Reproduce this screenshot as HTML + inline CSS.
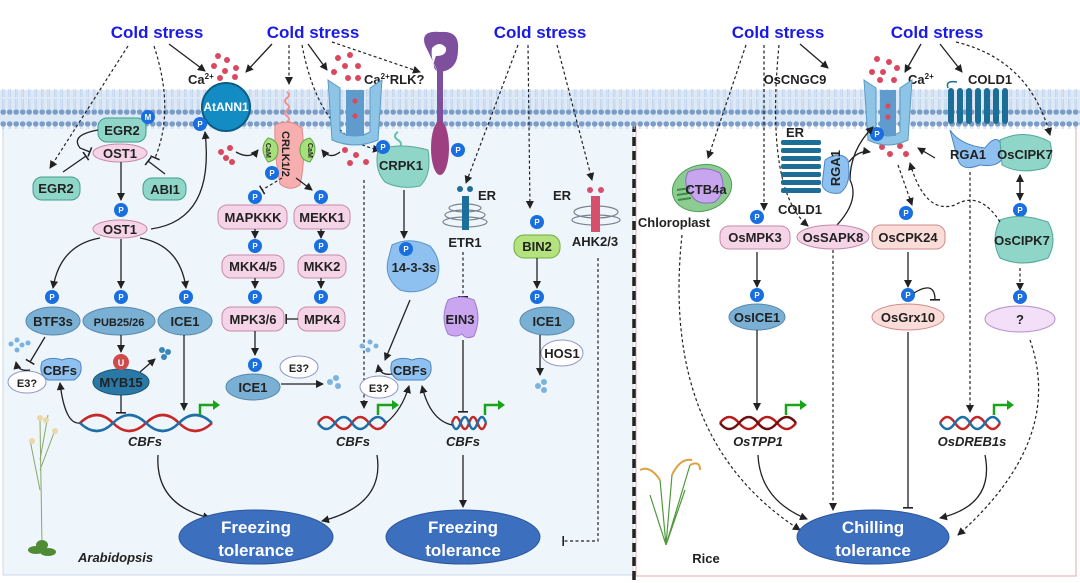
<!DOCTYPE html>
<html><head><meta charset="utf-8"><style>
html,body{margin:0;padding:0;background:#fff}
svg{display:block;font-family:"Liberation Sans",Arial,sans-serif}
.cs{fill:#1a1ae6;font-size:17px;font-weight:bold}
.lb{font-size:13px;font-weight:bold;fill:#222}
.sm{font-size:11px;font-weight:bold;fill:#222}
.it{font-size:13px;font-weight:bold;font-style:italic;fill:#222}
.ln{stroke:#222;stroke-width:1.3;fill:none}
.dl{stroke:#222;stroke-width:1.2;fill:none;stroke-dasharray:3 2.5}
.wt{fill:#fff;font-size:17px;font-weight:bold}
</style></head><body>
<svg width="1080" height="583" viewBox="0 0 1080 583" xmlns="http://www.w3.org/2000/svg">
<defs>
<marker id="a" markerWidth="8" markerHeight="8" refX="7" refY="4" orient="auto" markerUnits="userSpaceOnUse"><path d="M0,0 L8,4 L0,8 Z" fill="#222"/></marker>
<marker id="t" markerWidth="2" markerHeight="10" refX="1" refY="5" orient="auto" markerUnits="userSpaceOnUse"><rect x="0" y="0" width="1.6" height="10" fill="#222"/></marker>
<pattern id="lip" x="0" y="0" width="6.5" height="40" patternUnits="userSpaceOnUse">
<circle cx="3.2" cy="4" r="2.8" fill="#7a9cc6"/><circle cx="3.2" cy="32" r="2.8" fill="#7a9cc6"/>
<line x1="2.4" y1="6" x2="2.4" y2="17" stroke="#b9cfe8" stroke-width="0.7"/><line x1="4" y1="6" x2="4" y2="17" stroke="#b9cfe8" stroke-width="0.7"/>
<line x1="2.4" y1="19" x2="2.4" y2="30" stroke="#b9cfe8" stroke-width="0.7"/><line x1="4" y1="19" x2="4" y2="30" stroke="#b9cfe8" stroke-width="0.7"/>
</pattern>
<g id="P"><circle r="7" fill="#1a6fe0"/><text y="3" text-anchor="middle" font-size="8" fill="#fff" font-weight="bold">P</text></g>
</defs>

<!-- panels -->
<rect x="3" y="118" width="630" height="457" fill="#eef5fb" stroke="#c9d9e8"/>
<rect x="636" y="118" width="440" height="458" fill="#fff" stroke="#efc5c8" stroke-width="1.5"/>
<line x1="634" y1="123" x2="634" y2="583" stroke="#222" stroke-width="3.5" stroke-dasharray="9 5"/>
<!-- membrane -->
<rect x="0" y="90" width="1080" height="34" fill="#dde9f7"/>
<rect x="0" y="89" width="1080" height="40" fill="url(#lip)"/>

<!-- cold stress labels -->
<text x="157" y="38" class="cs" text-anchor="middle">Cold stress</text>
<text x="313" y="38" class="cs" text-anchor="middle">Cold stress</text>
<text x="540" y="38" class="cs" text-anchor="middle">Cold stress</text>
<text x="778" y="38" class="cs" text-anchor="middle">Cold stress</text>
<text x="937" y="38" class="cs" text-anchor="middle">Cold stress</text>

<!-- left top arrows -->
<path class="dl" d="M128,46 L50,168" marker-end="url(#a)"/>
<path class="dl" d="M154,46 Q175,110 155,158" marker-end="url(#t)"/>
<path class="ln" d="M169,44 L205,71" marker-end="url(#a)"/>
<path class="ln" d="M272,44 L246,72" marker-end="url(#a)"/>
<path class="dl" d="M289,45 L289,84" marker-end="url(#a)"/>
<path class="ln" d="M308,44 L327,70" marker-end="url(#a)"/>
<path class="dl" d="M302,45 Q320,140 380,150" marker-end="url(#a)"/>
<path class="dl" d="M332,42 L420,72" marker-end="url(#a)"/>
<path class="dl" d="M518,45 L466,183" marker-end="url(#a)"/>
<path class="dl" d="M528,45 L530,208" marker-end="url(#a)"/>
<path class="dl" d="M557,45 L592,180" marker-end="url(#a)"/>

<!-- Ca dots -->
<g fill="#d9485f">
<circle cx="218" cy="56" r="3"/><circle cx="227" cy="60" r="3"/><circle cx="214" cy="66" r="3"/><circle cx="225" cy="71" r="3"/><circle cx="236" cy="68" r="3"/><circle cx="220" cy="78" r="3"/><circle cx="235" cy="77" r="3"/>
<circle cx="221" cy="152" r="3"/><circle cx="230" cy="148" r="3"/><circle cx="226" cy="158" r="3"/><circle cx="232" cy="162" r="3"/>
<circle cx="338" cy="58" r="3"/><circle cx="350" cy="55" r="3"/><circle cx="345" cy="66" r="3"/><circle cx="358" cy="66" r="3"/><circle cx="334" cy="72" r="3"/><circle cx="348" cy="78" r="3"/><circle cx="358" cy="78" r="3"/>
<circle cx="345" cy="150" r="3"/><circle cx="356" cy="155" r="3"/><circle cx="350" cy="163" r="3"/><circle cx="366" cy="162" r="3"/>
<circle cx="877" cy="59" r="3"/><circle cx="889" cy="62" r="3"/><circle cx="872" cy="72" r="3"/><circle cx="883" cy="72" r="3"/><circle cx="897" cy="68" r="3"/><circle cx="880" cy="80" r="3"/><circle cx="894" cy="80" r="3"/>
<circle cx="882" cy="147" r="3"/><circle cx="892" cy="142" r="3"/><circle cx="900" cy="146" r="3"/><circle cx="890" cy="154" r="3"/><circle cx="906" cy="154" r="3"/>
</g>
<text x="188" y="84" class="lb">Ca<tspan font-size="8" dy="-5">2+</tspan></text>
<text x="364" y="84" class="lb">Ca<tspan font-size="8" dy="-5">2+</tspan><tspan dy="5">RLK?</tspan></text>

<!-- AtANN1 -->
<circle cx="226" cy="107" r="24" fill="#138cc4" stroke="#0a5d86" stroke-width="2"/>
<text x="226" y="111" text-anchor="middle" fill="#fff" font-size="12" font-weight="bold">AtANN1</text>
<use href="#P" x="200" y="124"/>
<path class="ln" d="M151,229 Q215,220 205,132" marker-end="url(#a)"/>

<!-- Ca channel left -->
<path d="M328,80 L340,88 L340,132 Q355,140 370,132 L370,88 L382,80 L378,140 Q355,150 332,140 Z" fill="#8ec5e6" stroke="#5b9bc4"/>
<rect x="346" y="90" width="18" height="46" fill="#5f9ccd"/>
<circle cx="355" cy="101" r="2.6" fill="#d9485f"/><circle cx="355" cy="116" r="2.6" fill="#d9485f"/>

<!-- RLK -->
<path d="M425,45 Q420,30 440,32 Q460,30 458,50 Q458,70 440,72 Q430,70 436,56 Q447,56 446,48 Q440,40 432,48 Q430,60 438,72 Z" fill="#7e4f9c"/>
<rect x="437" y="70" width="6" height="55" fill="#7e4f9c"/>
<ellipse cx="440" cy="148" rx="9" ry="27" fill="#9e3f82"/>
<use href="#P" x="458" y="150"/>
<!-- CRPK1 -->
<path d="M398,132 q-6,4 0,8 q6,4 0,8" stroke="#67c1aa" stroke-width="2" fill="none"/>
<path d="M378,150 Q400,142 428,150 Q432,175 420,186 Q400,190 385,182 Q374,170 378,150 Z" fill="#8fd6c9" stroke="#5aa89a"/>
<text x="401" y="170" text-anchor="middle" class="lb">CRPK1</text>
<use href="#P" x="383" y="147"/>
<path class="ln" d="M404,190 L404,238" marker-end="url(#a)"/>
<!-- 14-3-3s -->
<path d="M392,245 Q410,236 430,246 Q444,262 436,282 Q420,296 400,290 Q384,278 388,260 Z" fill="#8ec1f0" stroke="#5c93c9"/>
<use href="#P" x="406" y="249"/>
<text x="414" y="272" text-anchor="middle" class="lb">14-3-3s</text>
<path class="ln" d="M410,300 L385,360" marker-end="url(#a)"/>

<!-- CRLK1/2 -->
<path d="M287,92 q4,3 0,6 q-4,3 0,6 q4,3 0,6 q-4,3 0,6 q4,3 0,6" stroke="#f2908f" stroke-width="2" fill="none"/>
<path d="M275,125 Q290,118 302,128 Q306,160 300,185 Q290,192 280,184 Q274,155 275,125 Z" fill="#f7aeae" stroke="#e08787"/>
<text transform="translate(282,131) rotate(90)" class="sm" font-size="12">CRLK1/2</text>
<path d="M268,138 Q258,148 268,162 Q278,160 278,150 Q278,140 268,138 Z" fill="#a6e07a" stroke="#5fa843"/>
<path d="M310,138 Q320,148 310,162 Q300,160 300,150 Q300,140 310,138 Z" fill="#a6e07a" stroke="#5fa843"/>
<text transform="translate(266,143) rotate(90)" font-size="7" font-weight="bold" fill="#222">CaM</text>
<text transform="translate(308,143) rotate(90)" font-size="7" font-weight="bold" fill="#222">CaM</text>
<use href="#P" x="272" y="173"/>
<path class="ln" d="M236,152 Q250,160 258,150" marker-end="url(#a)"/>
<path class="ln" d="M340,152 Q330,160 322,150" marker-end="url(#a)"/>
<path class="dl" d="M282,178 L262,190" marker-end="url(#t)"/>
<path class="ln" d="M296,178 L312,190" marker-end="url(#a)"/>

<!-- MAPK cascade -->
<use href="#P" x="255" y="197"/><use href="#P" x="321" y="197"/>
<rect x="218" y="205" width="69" height="24" rx="9" fill="#f5d4e8" stroke="#c88aa8"/><text x="253" y="222" text-anchor="middle" class="lb">MAPKKK</text>
<rect x="294" y="205" width="56" height="24" rx="9" fill="#f5d4e8" stroke="#c88aa8"/><text x="322" y="222" text-anchor="middle" class="lb">MEKK1</text>
<path class="ln" d="M255,229 L255,238" marker-end="url(#a)"/><path class="ln" d="M321,229 L321,238" marker-end="url(#a)"/>
<use href="#P" x="255" y="246"/><use href="#P" x="321" y="246"/>
<rect x="222" y="255" width="62" height="23" rx="9" fill="#f5d4e8" stroke="#c88aa8"/><text x="253" y="271" text-anchor="middle" class="lb">MKK4/5</text>
<rect x="298" y="255" width="48" height="23" rx="9" fill="#f5d4e8" stroke="#c88aa8"/><text x="322" y="271" text-anchor="middle" class="lb">MKK2</text>
<path class="ln" d="M255,278 L255,288" marker-end="url(#a)"/><path class="ln" d="M321,278 L321,288" marker-end="url(#a)"/>
<use href="#P" x="255" y="297"/><use href="#P" x="321" y="297"/>
<rect x="222" y="307" width="62" height="24" rx="9" fill="#f5d4e8" stroke="#c88aa8"/><text x="253" y="324" text-anchor="middle" class="lb">MPK3/6</text>
<rect x="298" y="307" width="47" height="24" rx="9" fill="#f5d4e8" stroke="#c88aa8"/><text x="322" y="324" text-anchor="middle" class="lb">MPK4</text>
<path class="ln" d="M298,319 L286,319" marker-end="url(#t)"/>
<path class="ln" d="M255,331 L255,355" marker-end="url(#a)"/>
<use href="#P" x="255" y="365"/>
<ellipse cx="253" cy="387" rx="27" ry="13" fill="#7ab0d4" stroke="#5688ad"/><text x="253" y="392" text-anchor="middle" class="lb">ICE1</text>
<ellipse cx="299" cy="367" rx="19" ry="11" fill="#fff" stroke="#8f96c8"/><text x="299" y="372" text-anchor="middle" class="sm">E3?</text>
<path class="ln" d="M281,384 L323,384" marker-end="url(#a)"/>
<g fill="#7ab4de"><circle cx="330" cy="382" r="3"/><circle cx="336" cy="378" r="3"/><circle cx="338" cy="386" r="3"/></g>
<path class="dl" d="M364,180 L364,408" marker-end="url(#a)"/>

<!-- EGR2/OST1 -->
<rect x="98" y="118" width="48" height="24" rx="9" fill="#8fd6c9" stroke="#3f9d8c"/><text x="122" y="135" text-anchor="middle" class="lb">EGR2</text>
<circle cx="148" cy="117" r="7" fill="#1a6fe0"/><text x="148" y="120" text-anchor="middle" font-size="8" fill="#fff" font-weight="bold">M</text>
<ellipse cx="120" cy="153" rx="27" ry="9" fill="#f5d4e8" stroke="#c88aa8"/><text x="120" y="158" text-anchor="middle" class="lb">OST1</text>
<path class="ln" d="M98,130 Q70,135 80,148 L90,152" marker-end="url(#t)"/>
<path class="ln" d="M63,172 L86,156" marker-end="url(#t)"/>
<path class="ln" d="M165,174 L148,161" marker-end="url(#t)"/>
<rect x="33" y="177" width="47" height="23" rx="9" fill="#8fd6c9" stroke="#3f9d8c"/><text x="56" y="193" text-anchor="middle" class="lb">EGR2</text>
<rect x="143" y="178" width="43" height="22" rx="9" fill="#8fd6c9" stroke="#3f9d8c"/><text x="165" y="194" text-anchor="middle" class="lb">ABI1</text>
<path class="ln" d="M121,162 L121,200" marker-end="url(#a)"/>
<use href="#P" x="121" y="210"/>
<ellipse cx="120" cy="229" rx="27" ry="9" fill="#f5d4e8" stroke="#c88aa8"/><text x="120" y="234" text-anchor="middle" class="lb">OST1</text>
<path class="ln" d="M100,238 Q60,245 53,288" marker-end="url(#a)"/>
<path class="ln" d="M121,239 L121,288" marker-end="url(#a)"/>
<path class="ln" d="M140,238 Q180,245 186,288" marker-end="url(#a)"/>
<use href="#P" x="52" y="297"/><use href="#P" x="121" y="297"/><use href="#P" x="186" y="297"/>
<ellipse cx="53" cy="321" rx="27" ry="14" fill="#7ab0d4" stroke="#5688ad"/><text x="53" y="326" text-anchor="middle" class="lb">BTF3s</text>
<ellipse cx="119" cy="321" rx="36" ry="14" fill="#7ab0d4" stroke="#5688ad"/><text x="119" y="326" text-anchor="middle" class="sm" font-size="12">PUB25/26</text>
<ellipse cx="185" cy="321" rx="27" ry="14" fill="#7ab0d4" stroke="#5688ad"/><text x="185" y="326" text-anchor="middle" class="lb">ICE1</text>
<path class="ln" d="M45,337 L30,362" marker-end="url(#t)"/>
<path class="ln" d="M121,335 L121,352" marker-end="url(#a)"/>
<path class="ln" d="M184,335 L184,410" marker-end="url(#a)"/>
<path d="M42,362 Q50,356 62,360 Q72,356 80,362 Q84,374 74,380 L48,380 Q38,374 42,362 Z" fill="#8ec1f0" stroke="#4d82c0"/><text x="60" y="375" text-anchor="middle" class="lb">CBFs</text>
<ellipse cx="27" cy="382" rx="19" ry="11" fill="#fff" stroke="#8f96c8"/><text x="27" y="387" text-anchor="middle" class="sm">E3?</text>
<path class="ln" d="M30,370 Q18,372 16,362" marker-end="url(#a)"/>
<g fill="#7ab4de"><circle cx="11" cy="344" r="2.5"/><circle cx="17" cy="340" r="2.5"/><circle cx="22" cy="345" r="2.5"/><circle cx="28" cy="343" r="2.5"/><circle cx="17" cy="350" r="2.5"/></g>
<ellipse cx="121" cy="382" rx="28" ry="13" fill="#2a78a5" stroke="#1a5578"/><text x="121" y="387" text-anchor="middle" class="lb">MYB15</text>
<circle cx="121" cy="362" r="8" fill="#cf4b4b"/><text x="121" y="366" text-anchor="middle" font-size="9" fill="#fff" font-weight="bold">U</text>
<path class="ln" d="M140,372 L155,359" marker-end="url(#a)"/>
<g fill="#3a86b8"><circle cx="162" cy="350" r="3"/><circle cx="168" cy="352" r="3"/><circle cx="164" cy="357" r="3"/></g>
<path class="ln" d="M121,395 L121,413" marker-end="url(#t)"/>
<path class="ln" d="M80,423 Q65,425 60,383" marker-end="url(#a)"/>

<!-- DNA generator-ish -->
<g stroke-width="2.5" fill="none">
<path d="M80,423 q17,-16 33,0 t33,0 t33,0 t33,0" stroke="#c62828"/>
<path d="M80,423 q17,16 33,0 t33,0 t33,0 t33,0" stroke="#1e6fa8"/>
<path d="M318,423 q8,-12 17,0 t17,0 t17,0 t17,0" stroke="#c62828"/>
<path d="M318,423 q8,12 17,0 t17,0 t17,0 t17,0" stroke="#1e6fa8"/>
<path d="M452,423 q4,-12 8.5,0 t8.5,0 t8.5,0 t8.5,0" stroke="#c62828"/>
<path d="M452,423 q4,12 8.5,0 t8.5,0 t8.5,0 t8.5,0" stroke="#1e6fa8"/>
<path d="M720,423 q9,-12 19,0 t19,0 t19,0 t19,0" stroke="#b71c1c"/>
<path d="M720,423 q9,12 19,0 t19,0 t19,0 t19,0" stroke="#6d1010"/>
<path d="M940,423 q7,-12 15,0 t15,0 t15,0 t15,0" stroke="#c62828"/>
<path d="M940,423 q7,12 15,0 t15,0 t15,0 t15,0" stroke="#1e6fa8"/>
</g>
<g stroke="#1aa41a" stroke-width="2.5" fill="none">
<path d="M200,415 L200,405 L213,405"/><path d="M378,415 L378,405 L392,405"/><path d="M485,415 L485,405 L498,405"/><path d="M786,415 L786,405 L800,405"/><path d="M994,415 L994,405 L1007,405"/>
</g>
<g fill="#1aa41a"><path d="M213,400 L220,405 L213,410Z"/><path d="M392,400 L399,405 L392,410Z"/><path d="M498,400 L505,405 L498,410Z"/><path d="M800,400 L807,405 L800,410Z"/><path d="M1007,400 L1014,405 L1007,410Z"/></g>
<text x="145" y="446" text-anchor="middle" class="it">CBFs</text>
<text x="353" y="446" text-anchor="middle" class="it">CBFs</text>
<text x="463" y="446" text-anchor="middle" class="it">CBFs</text>
<text x="758" y="446" text-anchor="middle" class="it">OsTPP1</text>
<text x="972" y="446" text-anchor="middle" class="it">OsDREB1s</text>

<!-- middle CBFs -->
<path d="M392,362 Q400,356 412,360 Q422,356 430,362 Q434,374 424,380 L398,380 Q388,374 392,362 Z" fill="#8ec1f0" stroke="#4d82c0"/><text x="410" y="375" text-anchor="middle" class="lb">CBFs</text>
<ellipse cx="379" cy="387" rx="19" ry="11" fill="#fff" stroke="#8f96c8"/><text x="379" y="392" text-anchor="middle" class="sm">E3?</text>
<path class="ln" d="M392,374 Q380,376 378,365" marker-end="url(#a)"/>
<g fill="#7ab4de"><circle cx="362" cy="346" r="2.5"/><circle cx="370" cy="342" r="2.5"/><circle cx="376" cy="346" r="2.5"/><circle cx="368" cy="350" r="2.5"/></g>
<path class="ln" d="M386,423 Q402,410 409,386" marker-end="url(#a)"/>
<path class="ln" d="M452,425 Q430,420 422,386" marker-end="url(#a)"/>

<!-- ETR1 / EIN3 -->
<g stroke="#7a8290" fill="none" stroke-width="1.2"><ellipse cx="465" cy="215" rx="20" ry="5"/><ellipse cx="465" cy="222" rx="22" ry="5"/><ellipse cx="465" cy="208" rx="16" ry="4"/></g>
<rect x="462" y="196" width="7" height="34" fill="#1e6e9c"/>
<circle cx="460" cy="189" r="3" fill="#1e6e9c"/><circle cx="470" cy="189" r="3" fill="#1e6e9c"/>
<text x="478" y="200" class="lb">ER</text>
<text x="465" y="247" text-anchor="middle" class="lb">ETR1</text>
<path class="dl" d="M463,252 L463,297" marker-end="url(#t)"/>
<path d="M448,300 Q460,294 474,300 Q482,318 474,336 Q466,340 462,334 Q456,338 448,334 Q440,318 448,300 Z" fill="#c9a6ef" stroke="#9f7ad0"/>
<text x="460" y="324" text-anchor="middle" class="lb">EIN3</text>
<path class="ln" d="M463,340 L463,412" marker-end="url(#t)"/>
<path class="ln" d="M463,455 L463,507" marker-end="url(#a)"/>

<!-- BIN2 / AHK -->
<use href="#P" x="537" y="222"/>
<rect x="514" y="235" width="46" height="23" rx="10" fill="#b4e27e" stroke="#6faa3d"/><text x="537" y="251" text-anchor="middle" class="lb">BIN2</text>
<path class="ln" d="M537,258 L537,288" marker-end="url(#a)"/>
<use href="#P" x="537" y="297"/>
<ellipse cx="547" cy="321" rx="27" ry="14" fill="#7ab0d4" stroke="#5688ad"/><text x="547" y="326" text-anchor="middle" class="lb">ICE1</text>
<ellipse cx="562" cy="353" rx="21" ry="13" fill="#fff" stroke="#8f96c8"/><text x="562" y="358" text-anchor="middle" class="lb">HOS1</text>
<path class="ln" d="M540,335 L540,375" marker-end="url(#a)"/>
<g fill="#7ab4de"><circle cx="538" cy="386" r="3"/><circle cx="544" cy="382" r="3"/><circle cx="544" cy="390" r="3"/></g>
<text x="553" y="200" class="lb">ER</text>
<g stroke="#7a8290" fill="none" stroke-width="1.2"><ellipse cx="596" cy="212" rx="22" ry="6"/><ellipse cx="596" cy="220" rx="24" ry="5"/></g>
<rect x="591" y="196" width="9" height="36" fill="#d6506e"/>
<circle cx="590" cy="190" r="3" fill="#d6506e"/><circle cx="601" cy="190" r="3" fill="#d6506e"/>
<text x="595" y="246" text-anchor="middle" class="lb">AHK2/3</text>
<path class="dl" d="M598,258 L598,541 L563,541" marker-end="url(#t)"/>

<!-- freezing tolerance -->
<path class="ln" d="M158,455 Q155,505 210,518" marker-end="url(#a)"/>
<path class="ln" d="M377,455 Q385,505 322,521" marker-end="url(#a)"/>
<ellipse cx="256" cy="537" rx="77" ry="27" fill="#3d6fbf" stroke="#2c569c"/>
<text x="256" y="533" text-anchor="middle" class="wt">Freezing</text><text x="256" y="556" text-anchor="middle" class="wt">tolerance</text>
<ellipse cx="463" cy="537" rx="77" ry="27" fill="#3d6fbf" stroke="#2c569c"/>
<text x="463" y="533" text-anchor="middle" class="wt">Freezing</text><text x="463" y="556" text-anchor="middle" class="wt">tolerance</text>
<text x="78" y="562" class="it" font-size="16">Arabidopsis</text>
<!-- plant -->
<g stroke="#8aa86a" stroke-width="1" fill="none"><path d="M42,545 L40,420 M40,470 L55,430 M40,490 L30,440 M40,460 L48,415"/></g>
<g fill="#e8d9a6"><circle cx="46" cy="420" r="3"/><circle cx="55" cy="431" r="3"/><circle cx="32" cy="441" r="3"/><circle cx="40" cy="418" r="3"/></g>
<g fill="#4f8a35"><ellipse cx="36" cy="550" rx="8" ry="4"/><ellipse cx="48" cy="552" rx="8" ry="4"/><ellipse cx="42" cy="545" rx="6" ry="5"/></g>

<!-- RIGHT PANEL -->
<path class="dl" d="M746,45 L708,158" marker-end="url(#a)"/>
<path class="dl" d="M764,45 L764,210" marker-end="url(#a)"/>
<path class="dl" d="M779,45 Q765,190 808,226" marker-end="url(#a)"/>
<path class="ln" d="M800,44 L828,68" marker-end="url(#a)"/>
<path class="ln" d="M921,44 L905,72" marker-end="url(#a)"/>
<path class="ln" d="M940,44 L962,72" marker-end="url(#a)"/>
<path class="dl" d="M956,42 Q1030,60 1050,135" marker-end="url(#a)"/>

<text x="795" y="84" text-anchor="middle" class="lb">OsCNGC9</text>
<text x="908" y="84" class="lb">Ca<tspan font-size="8" dy="-5">2+</tspan></text>
<text x="968" y="84" class="lb" dx="0" x="967">COLD1</text>
<!-- channel right -->
<path d="M864,80 L876,88 L876,132 Q888,140 900,132 L900,88 L912,80 L908,140 Q888,150 868,140 Z" fill="#8ec5e6" stroke="#5b9bc4"/>
<rect x="880" y="90" width="16" height="46" fill="#5f9ccd"/>
<circle cx="888" cy="106" r="2.6" fill="#d9485f"/><circle cx="888" cy="117" r="2.6" fill="#d9485f"/>
<use href="#P" x="877" y="134"/>
<!-- COLD1 membrane -->
<g fill="#1d6e96"><rect x="948" y="88" width="6" height="36" rx="3"/><rect x="957" y="88" width="6" height="36" rx="3"/><rect x="966" y="88" width="6" height="36" rx="3"/><rect x="975" y="88" width="6" height="36" rx="3"/><rect x="984" y="88" width="6" height="36" rx="3"/><rect x="993" y="88" width="6" height="36" rx="3"/><rect x="1002" y="88" width="6" height="36" rx="3"/></g>
<path d="M957,82 Q945,80 948,88" stroke="#1d6e96" fill="none" stroke-width="1.5"/>
<path d="M950,130 Q960,145 985,148 Q1000,128 1004,155 Q1000,168 980,165 Q962,172 958,160 Z" fill="#8ec1f0" stroke="#4d82c0"/>
<text x="968" y="159" text-anchor="middle" class="lb">RGA1</text>
<path d="M1000,140 Q1025,128 1050,142 Q1055,160 1045,168 Q1020,175 1002,165 Z" fill="#8fd6c9" stroke="#4fa897"/>
<text x="1025" y="159" text-anchor="middle" class="lb">OsCIPK7</text>
<path class="ln" d="M1020,175 L1020,200" marker-end="url(#a)"/>
<path class="ln" d="M1020,200 L1020,175" marker-end="url(#a)"/>
<use href="#P" x="1020" y="210"/>
<path d="M1000,220 Q1020,212 1048,222 Q1058,240 1048,258 Q1022,268 1000,258 Q990,240 1000,220 Z" fill="#8fd6c9" stroke="#4fa897"/>
<text x="1022" y="245" text-anchor="middle" class="lb">OsCIPK7</text>
<path class="dl" d="M1020,268 L1020,290" marker-end="url(#a)"/>
<path class="ln" d="M935,158 L918,148" marker-end="url(#a)"/>
<path class="dl" d="M1000,222 Q980,190 955,205 Q925,215 910,163" marker-end="url(#a)"/>
<path class="dl" d="M970,172 L970,412" marker-end="url(#a)"/>
<path class="dl" d="M898,165 L912,205" marker-end="url(#a)"/>

<!-- COLD1 ER + RGA1 -->
<g fill="#1d6e96"><rect x="781" y="140" width="40" height="5" rx="2"/><rect x="781" y="148" width="40" height="5" rx="2"/><rect x="781" y="156" width="40" height="5" rx="2"/><rect x="781" y="164" width="40" height="5" rx="2"/><rect x="781" y="172" width="40" height="5" rx="2"/><rect x="781" y="180" width="40" height="5" rx="2"/><rect x="781" y="188" width="40" height="5" rx="2"/></g>
<text x="786" y="137" class="lb">ER</text>
<path d="M825,160 Q840,150 848,160 Q852,185 840,193 Q826,195 822,185 Z" fill="#8ec1f0" stroke="#4d82c0"/>
<text transform="translate(840,150) rotate(-90)" class="lb" text-anchor="end" font-size="12">RGA1</text>
<text x="800" y="214" text-anchor="middle" class="lb">COLD1</text>
<path class="ln" d="M849,162 Q858,150 870,152" marker-end="url(#a)"/>
<path class="ln" d="M837,225 Q860,200 850,180 Q850,150 873,127" marker-end="url(#a)"/>

<!-- chloroplast -->
<ellipse cx="702" cy="188" rx="30" ry="23" fill="#8ccc90" stroke="#4e9d56" transform="rotate(-15 702 188)"/>
<path d="M688,172 Q705,165 720,173 Q728,190 715,202 Q698,206 692,196 Q682,184 688,172 Z" fill="#c8a6ef" stroke="#8f69c4"/>
<g stroke="#3f8a47" stroke-width="2"><line x1="677" y1="190" x2="690" y2="188"/><line x1="677" y1="195" x2="690" y2="193"/><line x1="678" y1="200" x2="691" y2="198"/></g>
<text x="706" y="194" text-anchor="middle" class="lb">CTB4a</text>
<text x="674" y="227" text-anchor="middle" class="lb">Chloroplast</text>
<path class="dl" d="M682,235 Q660,440 800,530" marker-end="url(#a)" stroke="#666"/>

<!-- Os nodes -->
<use href="#P" x="757" y="217"/>
<rect x="720" y="226" width="70" height="23" rx="9" fill="#f5d4e8" stroke="#c88aa8"/><text x="755" y="242" text-anchor="middle" class="lb">OsMPK3</text>
<ellipse cx="833" cy="237" rx="36" ry="12" fill="#f5d4e8" stroke="#c88aa8"/><text x="833" y="242" text-anchor="middle" class="lb">OsSAPK8</text>
<use href="#P" x="906" y="213"/>
<rect x="872" y="225" width="73" height="24" rx="9" fill="#fadcd8" stroke="#d08b8b"/><text x="908" y="242" text-anchor="middle" class="lb">OsCPK24</text>
<path class="ln" d="M757,252 L757,287" marker-end="url(#a)"/>
<path class="ln" d="M908,252 L908,287" marker-end="url(#a)"/>
<path class="dl" d="M833,250 L833,510" marker-end="url(#a)"/>
<use href="#P" x="757" y="295"/>
<ellipse cx="757" cy="317" rx="28" ry="13" fill="#7ab0d4" stroke="#5688ad"/><text x="757" y="322" text-anchor="middle" class="lb">OsICE1</text>
<use href="#P" x="908" y="295"/>
<path class="ln" d="M914,293 Q935,280 935,300" marker-end="url(#t)"/>
<ellipse cx="908" cy="317" rx="36" ry="13" fill="#fadcd8" stroke="#d08b8b"/><text x="908" y="322" text-anchor="middle" class="lb">OsGrx10</text>
<use href="#P" x="1020" y="297"/>
<ellipse cx="1020" cy="319" rx="35" ry="13" fill="#f3e0f8" stroke="#b48ccc"/><text x="1020" y="324" text-anchor="middle" class="lb">?</text>
<path class="ln" d="M757,330 L757,410" marker-end="url(#a)"/>
<path class="ln" d="M908,332 L908,508" marker-end="url(#t)"/>
<path class="dl" d="M1030,340 Q1065,440 958,535" marker-end="url(#a)"/>
<path class="ln" d="M758,455 Q760,500 807,519" marker-end="url(#a)"/>
<path class="ln" d="M985,455 Q995,505 940,518" marker-end="url(#a)"/>
<ellipse cx="873" cy="537" rx="76" ry="27" fill="#3d6fbf" stroke="#2c569c"/>
<text x="873" y="533" text-anchor="middle" class="wt">Chilling</text><text x="873" y="556" text-anchor="middle" class="wt">tolerance</text>
<text x="706" y="563" text-anchor="middle" class="lb" font-size="16">Rice</text>
<!-- rice plant -->
<g stroke="#4f9a3a" stroke-width="1.2" fill="none"><path d="M666,545 L660,480 M666,545 L672,475 M666,545 L685,490 M666,545 L650,495 M666,545 L690,465"/></g>
<g stroke="#e0a040" stroke-width="2" fill="none"><path d="M660,480 Q650,465 640,470 M672,475 Q680,458 692,460 M690,465 Q700,460 700,470"/></g>
</svg>
</body></html>
